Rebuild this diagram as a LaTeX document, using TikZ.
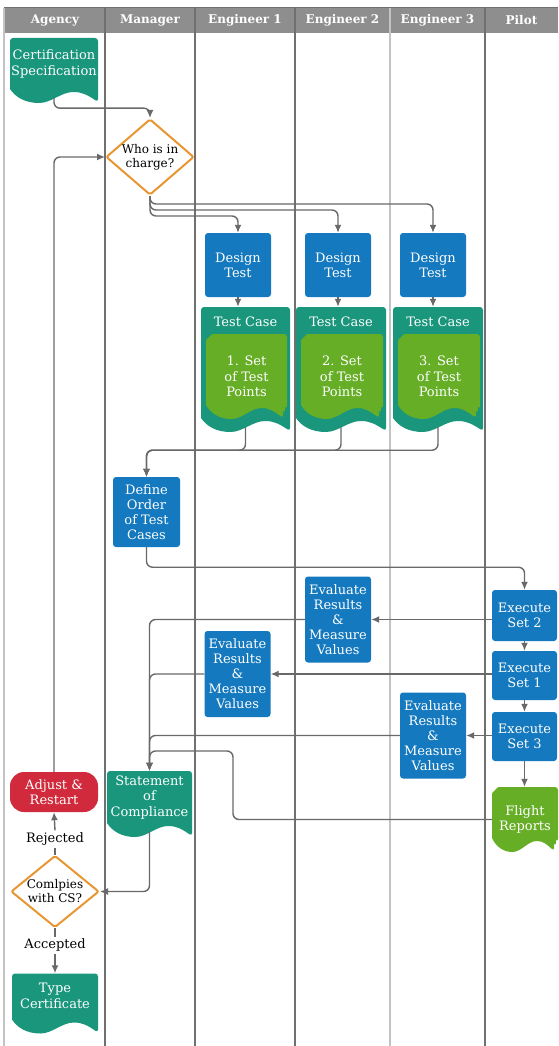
\documentclass[tikz,border=0pt]{standalone}
\usepackage{fontspec}
\setmainfont{DejaVu Serif}
\usepackage{tikz}
\usetikzlibrary{arrows.meta, shapes.geometric, calc}

\definecolor{laneline}{RGB}{112,112,112}
\definecolor{lanelight}{RGB}{195,195,195}
\definecolor{headgray}{RGB}{142,142,142}
\definecolor{taskblue}{RGB}{20,121,190}
\definecolor{docteal}{RGB}{25,150,124}
\definecolor{setgreen}{RGB}{102,174,38}
\definecolor{stopred}{RGB}{208,42,60}
\definecolor{askorange}{RGB}{232,150,50}
\definecolor{flowgray}{RGB}{105,105,105}

% document outline inside a node, insets: left, top, right, bottom
\newcommand\docpath[4]{%
  let \p1=([xshift=#1,yshift=-#2]path picture bounding box.north west),
      \p2=([xshift=-#3,yshift=#4]path picture bounding box.south east) in
  [rounded corners=3pt] (\x1,\y2+14pt) -- (\x1,\y1) -- (\x2,\y1) -- (\x2,\y2+1pt)
  [sharp corners]
  .. controls ({\x1+0.88*(\x2-\x1)},\y2+8pt) and ({\x1+0.82*(\x2-\x1)},\y2+11pt) .. ({\x1+0.72*(\x2-\x1)},\y2+11pt)
  .. controls ({\x1+0.58*(\x2-\x1)},\y2+11pt) and ({\x1+0.47*(\x2-\x1)},\y2) .. ({\x1+0.33*(\x2-\x1)},\y2)
  .. controls ({\x1+0.17*(\x2-\x1)},\y2) and ({\x1+0.06*(\x2-\x1)},\y2+6pt) .. (\x1,\y2+14pt) -- cycle}

\begin{document}
\begin{tikzpicture}[x=1pt, y=-1pt,
  every node/.style={anchor=center},
  lanehead/.style={text=white, font=\bfseries\fontsize{12}{14}\selectfont},
  task/.style={rectangle, rounded corners=3pt, fill=taskblue, text=white, align=center,
               inner sep=0pt, minimum width=66, minimum height=64,
               font=\fontsize{13}{15}\selectfont},
  docbox/.style={rectangle, inner sep=0pt, text=white, align=center, text depth=16pt,
                 font=\fontsize{13}{15.5}\selectfont,
                 path picture={\fill[#1] \docpath{0pt}{0pt}{0pt}{0pt};}},
  setbox/.style={rectangle, inner sep=0pt, text=white, align=center,
                 font=\fontsize{13}{15.5}\selectfont,
                 path picture={\fill[#1] \docpath{4pt}{0pt}{0pt}{9pt};
                               \fill[#1] \docpath{2pt}{2pt}{2pt}{5pt};
                               \fill[#1] \docpath{0pt}{4pt}{4pt}{0pt};}},
  casetitle/.style={anchor=north, yshift=-7pt, text=white, font=\fontsize{13}{15}\selectfont},
  decision/.style={diamond, aspect=1.16, draw=askorange, line width=2pt, rounded corners=2pt,
                   fill=white, align=center, inner sep=0pt, minimum width=88, minimum height=76,
                   font=\fontsize{12}{14}\selectfont},
  stopbox/.style={rectangle, rounded corners=14pt, fill=stopred, text=white, align=center,
                  minimum width=88, minimum height=40, font=\fontsize{13}{15}\selectfont},
  note/.style={inner sep=2pt, font=\fontsize{13}{15}\selectfont},
  linkline/.style={draw=flowgray, line width=1.4pt},
  flow/.style={linkline, rounded corners=6pt, -{Latex[length=8pt, width=7pt]}}
]
  \useasboundingbox (0,0) rectangle (558,1046);

  % swimlanes
  \fill[headgray] (4,8) rectangle (558,33);
  \draw[lanelight, line width=1.2pt] (4,8) -- (4,1046) (390,8) -- (390,1046);
  \draw[laneline, line width=1.2pt] (105,8) -- (105,1046) (195,8) -- (195,1046)
                                    (295,8) -- (295,1046) (485,8) -- (485,1046);
  \draw[laneline, line width=1pt] (4,8) -- (558,8);

  \node[lanehead] (hagency)  at (55,20.5)    {Agency};
  \node[lanehead] (hmanager) at (150,20.5)   {Manager};
  \node[lanehead] (heng1)    at (245,20.5)   {Engineer 1};
  \node[lanehead] (heng2)    at (342.5,20.5) {Engineer 2};
  \node[lanehead] (heng3)    at (437.5,20.5) {Engineer 3};
  \node[lanehead] (hpilot)   at (521.5,20.5) {Pilot};

  % planning
  \node[docbox=docteal, minimum width=88, minimum height=65] (cert) at (54,70.5) {Certification\\Specification};
  \node[decision] (who) at (150,157) {Who is in\\charge?};
  \node[task] (dt1) at (238,265) {Design\\Test};
  \node[task] (dt2) at (338,265) {Design\\Test};
  \node[task] (dt3) at (433,265) {Design\\Test};
  \node[docbox=docteal, minimum width=89, minimum height=125, label={[casetitle]north:Test Case}] (tc1) at (245.5,369.5) {};
  \node[docbox=docteal, minimum width=90, minimum height=125, label={[casetitle]north:Test Case}] (tc2) at (341,369.5) {};
  \node[docbox=docteal, minimum width=90, minimum height=125, label={[casetitle]north:Test Case}] (tc3) at (438,369.5) {};
  \node[setbox=setgreen, minimum width=81, minimum height=85] (set1) at (246.5,376.5) {1. Set\\of Test\\Points};
  \node[setbox=setgreen, minimum width=82, minimum height=85] (set2) at (342,376.5) {2. Set\\of Test\\Points};
  \node[setbox=setgreen, minimum width=82, minimum height=85] (set3) at (439,376.5) {3. Set\\of Test\\Points};
  \node[task, minimum width=67, minimum height=70] (ord) at (146.5,512) {Define\\Order\\of Test\\Cases};

  % flight tests
  \node[task, minimum width=65, minimum height=51] (ex2) at (524.5,615.5) {Execute\\Set 2};
  \node[task, minimum width=65, minimum height=49] (ex1) at (524.5,675.5) {Execute\\Set 1};
  \node[task, minimum width=65, minimum height=49] (ex3) at (524.5,736.5) {Execute\\Set 3};
  \node[task, minimum height=86] (ev2) at (338,619.5)   {Evaluate\\Results\\\&\\Measure\\Values};
  \node[task, minimum height=86] (ev1) at (237.5,674)   {Evaluate\\Results\\\&\\Measure\\Values};
  \node[task, minimum height=86] (ev3) at (433,735.5)   {Evaluate\\Results\\\&\\Measure\\Values};
  \node[setbox=setgreen, minimum width=66, minimum height=65] (fl) at (525,819.5) {Flight\\Reports};

  % approval
  \node[docbox=docteal, minimum width=85, minimum height=66] (comp) at (149.5,804) {Statement\\of\\Compliance};
  \node[stopbox] (adj) at (54,792) {Adjust \&\\Restart};
  \node[note] (rej) at (55,839) {Rejected};
  \node[decision, minimum height=71] (cmp) at (55,891.5) {Comlpies\\with CS?};
  \node[note] (acc) at (55,945) {Accepted};
  \node[docbox=docteal, minimum width=86, minimum height=60] (typec) at (55,1003.5) {Type\\Certificate};

  \draw[flow] ([yshift=5pt]cert.south) -- ++(0,10) -| (who.north);
  \draw[flow] (who.south) -- ++(0,20) -| (dt1.north);
  \draw[flow] (who.south) -- ++(0,14) -| (dt2.north);
  \draw[flow] (who.south) -- ++(0,8) -| (dt3.north);
  \draw[flow] (dt1.south) -- (dt1.south |- tc1.north);
  \draw[flow] (dt2.south) -- (dt2.south |- tc2.north);
  \draw[flow] (dt3.south) -- (dt3.south |- tc3.north);
  \draw[flow] ([yshift=5pt]tc1.south) -- ++(0,23) -| (ord.north);
  \draw[flow] ([yshift=5pt]tc2.south) -- ++(0,23) -| (ord.north);
  \draw[flow] ([yshift=5pt]tc3.south) -- ++(0,23) -| (ord.north);
  \draw[flow] (ord.south) -- ++(0,20) -| (ex2.north);
  \draw[flow] (ex2) -- (ex1);
  \draw[flow] (ex1) -- (ex3);
  \draw[flow] (ex3.south) -- (ex3.south |- fl.north);
  \draw[flow] (ex2.west |- ev2.east) -- (ev2.east);
  \draw[flow] (ex1.west |- ev1.east) -- (ev1.east);
  \draw[flow] (ex3.west |- ev3.east) -- (ev3.east);
  \draw[flow] (ev2.west) -| (comp.north);
  \draw[flow] (ev1.west) -| (comp.north);
  \draw[flow] (ev3.west) -| (comp.north);
  \draw[flow] (fl.west) -| (233,751) -| (comp.north);
  \draw[flow] ([yshift=5pt]comp.south) |- (cmp.east);
  \draw[linkline] (cmp.north) -- (rej.south);
  \draw[flow] (rej.north) -- (adj.south);
  \draw[flow] (adj.north) |- (who.west);
  \draw[linkline] (cmp.south) -- (acc.north);
  \draw[flow] (acc.south) -- (typec.north);
\end{tikzpicture}
\end{document}
